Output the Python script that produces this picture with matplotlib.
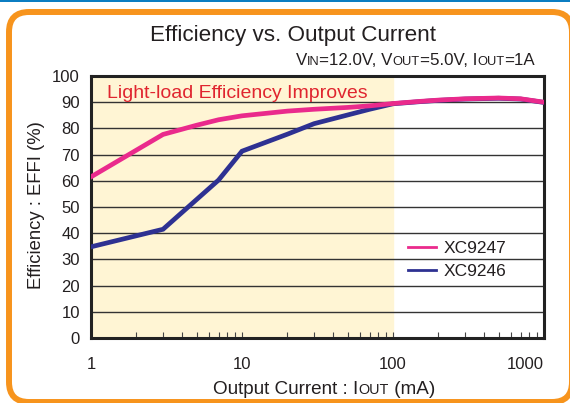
import matplotlib
matplotlib.use("Agg")
import matplotlib.pyplot as plt
from matplotlib.patches import FancyBboxPatch, Rectangle
from matplotlib.lines import Line2D
from matplotlib.transforms import IdentityTransform
from matplotlib.ticker import FixedLocator, NullFormatter

plt.rcParams['font.family'] = ['Liberation Sans', 'DejaVu Sans']

# data
current_9247 = [1, 3, 5, 7, 10, 20, 30, 50, 70, 100, 150, 200, 300, 500, 700, 1000]
eff_9247 = [61.5, 77.7, 81.2, 83.3, 84.8, 86.6, 87.3, 88.0, 88.6, 89.5, 90.3, 90.8, 91.3, 91.6, 91.3, 90.0]
current_9246 = [1, 3, 7, 10, 20, 30, 70, 100, 150, 200, 300, 500, 700, 1000]
eff_9246 = [34.8, 41.5, 60.3, 71.3, 77.8, 81.8, 87.3, 89.4, 90.2, 90.7, 91.2, 91.5, 91.2, 89.9]
x_ticks = [1, 10, 100, 1000]
y_ticks = list(range(0, 101, 10))
names = ['XC9247', 'XC9246']

PINK = '#ea2a8c'
NAVY = '#2e3192'
TXT = '#231f20'
W, H = 570, 403

fig = plt.figure(figsize=(W / 100, H / 100), dpi=100)
fig.patch.set_facecolor('white')

# frame: thin blue rule on top, rounded orange border (behind the axes)
fig.patches.append(Rectangle((0, H - 2), W, 2, transform=IdentityTransform(),
                             facecolor='#0b7dc2', edgecolor='none', zorder=-10))
fig.patches.append(FancyBboxPatch((9, 1), 563, 390, boxstyle='round,pad=0,rounding_size=20',
                                  transform=IdentityTransform(), facecolor='white',
                                  edgecolor='#f7941d', linewidth=4.3, zorder=-10))

ax = fig.add_axes([91 / W, 1 - 338 / H, 453 / W, 262 / H])
ax.set_xscale('log')
ax.set_xlim(1, 1000)
ax.set_ylim(0, 100)
ax.axvspan(1, 100, color='#fff5d4', zorder=0)
for v in y_ticks[1:-1]:
    ax.axhline(v, color='#333333', lw=1.0, zorder=1)

ax.plot(current_9246, eff_9246, color=NAVY, lw=3.4, zorder=3, solid_joinstyle='miter')
ax.plot(current_9247, eff_9247, color=PINK, lw=3.4, zorder=4, solid_joinstyle='miter')

for s in ax.spines.values():
    s.set_linewidth(2.2)
    s.set_color('#222222')

ax.set_xticks(x_ticks)
ax.set_xticklabels([str(t) for t in x_ticks])
ax.xaxis.set_minor_locator(FixedLocator([m * d for d in (1, 10, 100) for m in range(2, 10)]))
ax.xaxis.set_minor_formatter(NullFormatter())
ax.tick_params(axis='x', which='both', direction='in', length=4, width=0.8, color='#444444',
               labelsize=12, labelcolor=TXT, pad=14)
ax.set_yticks(y_ticks)
ax.tick_params(axis='y', length=0, labelsize=12, labelcolor=TXT, pad=8)
ax.get_xticklabels()[-1].set_horizontalalignment('right')

ax.text(0.035, 0.916, 'Light-load Efficiency Improves', transform=ax.transAxes,
        fontsize=14, color='#e0252f', va='baseline', ha='left', zorder=5)

handles = [Line2D([], [], color=PINK, lw=2), Line2D([], [], color=NAVY, lw=2)]
ax.legend(handles, names, loc='center left', bbox_to_anchor=(0.70, 0.298), frameon=False,
          fontsize=12.5, handlelength=1.6, handletextpad=0.45, labelspacing=0.45,
          borderpad=0, borderaxespad=0, labelcolor=TXT)

fig.text(293 / W, 1 - 41 / H, 'Efficiency vs. Output Current', fontsize=16.2, color=TXT,
         ha='center', va='baseline')
fig.text(37 / W, 1 - 205 / H, 'Efficiency : EFFI (%)', fontsize=13.3, color=TXT,
         rotation=90, ha='center', va='center')

renderer = fig.canvas.get_renderer()


def rich_text(pieces, x, y, size, ha='left'):
    # pieces: (text, small-caps?) drawn one after the other on a baseline
    objs = []
    for s, small in pieces:
        objs.append(fig.text(0, 0, s, fontsize=size * (0.76 if small else 1), color=TXT,
                             transform=IdentityTransform(), va='baseline', ha='left'))
    widths = [t.get_window_extent(renderer).width for t in objs]
    total = sum(widths)
    start = {'left': x, 'center': x - total / 2, 'right': x - total}[ha]
    for t, w in zip(objs, widths):
        t.set_position((start, y))
        start += w


rich_text([('V', 0), ('IN', 1), ('=12.0V, V', 0), ('OUT', 1), ('=5.0V, I', 0), ('OUT', 1),
           ('=1A', 0)], 535, H - 65, 12.2, ha='right')
rich_text([('Output Current : I', 0), ('OUT', 1), (' (mA)', 0)], 324, H - 394, 13.6,
          ha='center')

fig.savefig('out.png', dpi=100)
